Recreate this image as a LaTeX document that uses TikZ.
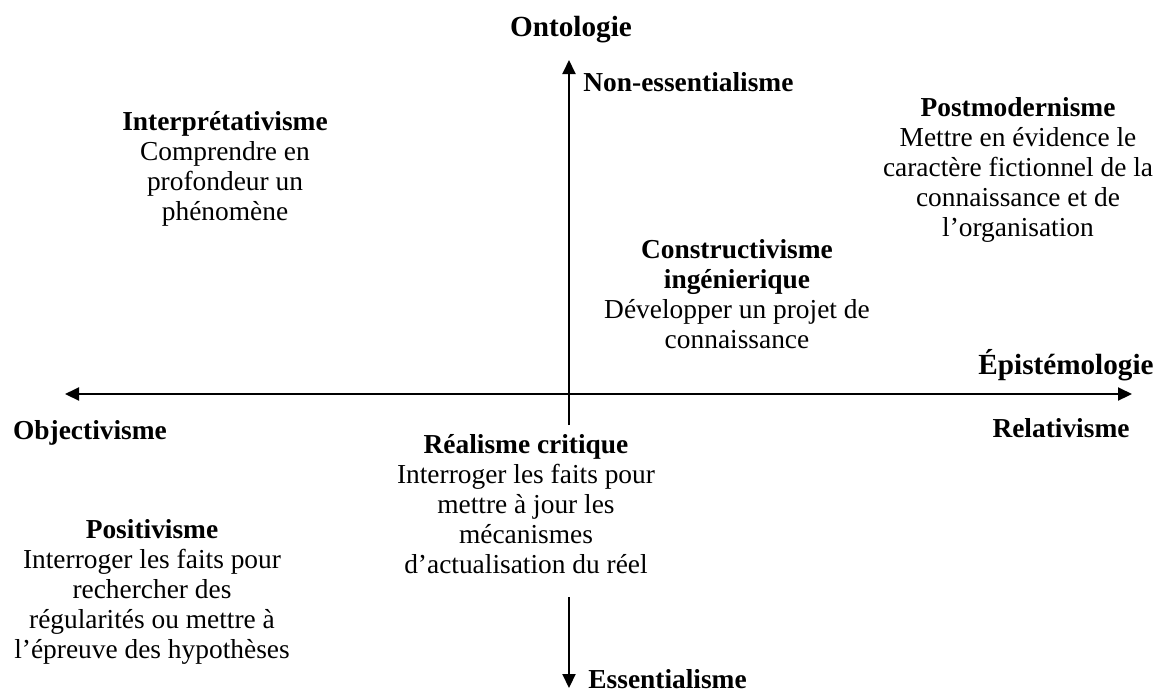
\documentclass[tikz,border=0pt]{standalone}
\usepackage{fontspec}
\setmainfont{Liberation Serif}
\usetikzlibrary{arrows.meta}
\tikzset{
  axisline/.style={line width=1pt, -{Triangle[length=7pt,width=6.5pt]}},
  body/.style={align=center, inner sep=0pt, font=\fontsize{13.7}{15}\selectfont},
  head/.style={inner sep=0pt, font=\fontsize{13.7}{15}\selectfont\bfseries},
  bigtitle/.style={inner sep=0pt, font=\fontsize{14.6}{16}\selectfont\bfseries},
}
\begin{document}
\begin{tikzpicture}[x=0.5pt,y=-0.5pt]
\useasboundingbox (0,0) rectangle (1161,693);
% axis end points
\coordinate (hL) at (65,394);
\coordinate (hR) at (1132,394);
\coordinate (vT) at (569,60);
\coordinate (vM) at (569,425);
\coordinate (vB) at (569,597);
\coordinate (vE) at (569,688);
\draw[axisline, {Triangle[length=7pt,width=6.5pt]}-{Triangle[length=7pt,width=6.5pt]}] (hL) -- (hR);
\draw[axisline] (vM) -- (vT);
\draw[axisline] (vB) -- (vE);
% labels
\node[bigtitle] (ont) at (571,30) {Ontologie};
\node[bigtitle] (epi) at (1066,365) {Épistémologie};
\node[head, anchor=west] (nonessent) at (583,82) {Non-essentialisme};
\node[head, anchor=west] (essent) at (588,679) {Essentialisme};
\node[head] (obj) at (90,433) {Objectivisme};
\node[head] (rel) at (1061,428) {Relativisme};
\node[body] (interp) at (225,169) {\textbf{Interprétativisme}\\Comprendre en\\profondeur un\\phénomène};
\node[body] (postmod) at (1018,170) {\textbf{Postmodernisme}\\Mettre en évidence le\\caractère fictionnel de la\\connaissance et de\\l’organisation};
\node[body] (constr) at (737,294) {\textbf{Constructivisme}\\\textbf{ingénierique}\\Développer un projet de\\connaissance};
\node[body] (real) at (526,504) {\textbf{Réalisme critique}\\Interroger les faits pour\\mettre à jour les\\mécanismes\\d’actualisation du réel};
\node[body] (posit) at (152,592) {\textbf{Positivisme}\\Interroger les faits pour\\rechercher des\\régularités ou mettre à\\l’épreuve des hypothèses};
\end{tikzpicture}
\end{document}
